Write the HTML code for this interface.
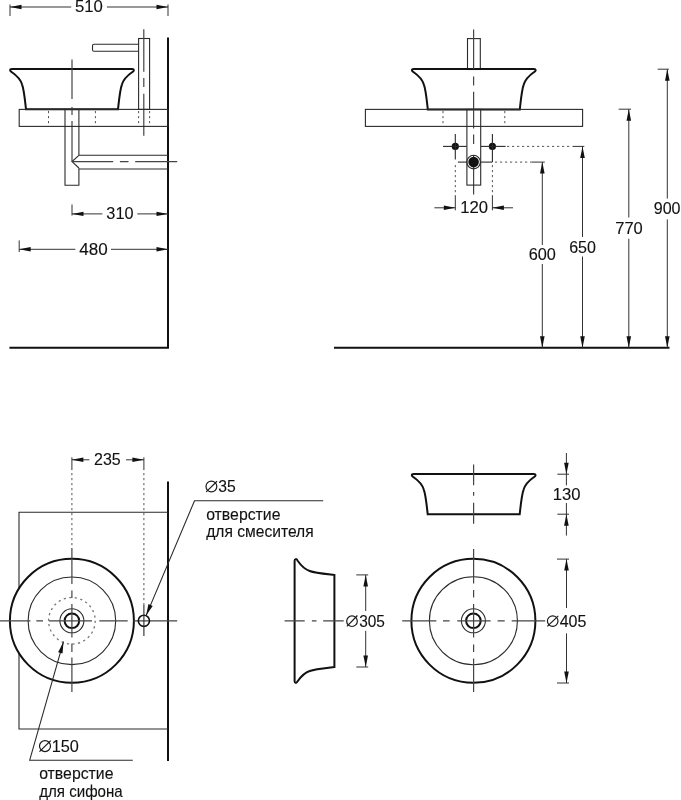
<!DOCTYPE html>
<html><head><meta charset="utf-8"><style>
html,body{margin:0;padding:0;background:#fff;width:681px;height:800px;overflow:hidden}
svg{display:block;will-change:transform}
.t{fill:none;stroke:#2a2a2a;stroke-width:1.1}
.d{fill:none;stroke:#333;stroke-width:1}
.k{fill:none;stroke:#111;stroke-width:2}
.kf{fill:#fff;stroke:#111;stroke-width:2}
.k2{fill:none;stroke:#111;stroke-width:1.6}
.w{fill:none;stroke:#111;stroke-width:2}
.f{fill:#111;stroke:none}
.ar{fill:#111;stroke:none}
.dt{fill:none;stroke:#555;stroke-width:1;stroke-dasharray:2.2 2.8}
.dc{fill:none;stroke:#777;stroke-width:1.3;stroke-dasharray:2.2 3.4}
.dm{fill:none;stroke:#1a1a1a;stroke-width:1.2}
.cl{fill:none;stroke:#444;stroke-width:1.2}
.c1{stroke-dasharray:41.6 6.8 8.8 6.8}
.c2{stroke-dasharray:39.6 8 8 6}
.c3{stroke-dasharray:41 6.7 8.6 6.7}
.c4{stroke-dasharray:8 6 22 6}
.c5{stroke-dasharray:12 4 4 4}
.c6{stroke-dasharray:12 4 4 4}
.c7{stroke-dasharray:18 4 6 4}
.c8{stroke-dasharray:12 4 4 4}
.tx{font-family:"Liberation Sans",sans-serif;fill:#111;stroke:#111;stroke-width:0.12}
</style></head><body>
<svg width="681" height="800" viewBox="0 0 681 800">
<line x1="10" y1="7" x2="71.2" y2="7" class="d"/>
<line x1="106.9" y1="7" x2="168" y2="7" class="d"/>
<line x1="10" y1="4.5" x2="10" y2="16" class="d"/>
<line x1="168" y1="4.5" x2="168" y2="16" class="d"/>
<polygon points="10.00,7.00 21.50,4.70 21.50,9.30" class="ar"/>
<polygon points="168.00,7.00 156.50,4.70 156.50,9.30" class="ar"/>
<text x="74.98" y="12.29" font-size="16.00" textLength="27.89" lengthAdjust="spacingAndGlyphs" class="tx">510</text>
<polyline points="168,37.5 168,347.8 9.4,347.8" class="w"/>
<path d="M138.6,44.3 L94,44.3 Q92.5,44.3 92.5,45.8 L92.5,49.8 Q92.5,51.3 94,51.3 L138.6,51.3" class="t"/>
<rect x="138.6" y="38.5" width="11.00" height="70.90" class="t"/>
<path d="M143.8,29.3V71.8 M143.8,78V86.9 M143.8,93.8V135.8" class="cl"/>
<path d="M26.00,109.20 L118.00,109.20 C119.30,97.50 120.00,89.35 122.00,84.27 C124.00,78.16 128.00,75.11 132.00,72.26 C134.60,70.83 134.40,69.00 132.00,69.00 L12.00,69.00 C9.60,69.00 9.40,70.83 12.00,72.26 C16.00,75.11 20.00,78.16 22.00,84.27 C24.00,89.35 24.70,97.50 26.00,109.20 Z" class="k"/>
<path d="M72,59.4V99 M72,107V115 M72,121V161.6" class="cl"/>
<rect x="19.2" y="109.4" width="148.80" height="17.00" class="t"/>
<line x1="48.5" y1="111" x2="48.5" y2="126" class="dt"/>
<line x1="95.4" y1="111" x2="95.4" y2="126" class="dt"/>
<line x1="138.6" y1="111" x2="138.6" y2="126" class="dt"/>
<line x1="149.6" y1="111" x2="149.6" y2="126" class="dt"/>
<polyline points="78.9,109.4 78.9,155.3" class="t"/>
<polyline points="78.9,168.3 78.9,185.3 65,185.3 65,109.4" class="t"/>
<line x1="78.9" y1="155.3" x2="168" y2="155.3" class="t"/>
<line x1="78.9" y1="169" x2="168" y2="169" class="t"/>
<polyline points="78.9,155.3 72,161.6 78.9,168" class="t"/>
<path d="M72,161.6H113.2 M119.9,161.6H128.5 M135.2,161.6H177.2" class="cl"/>
<line x1="72" y1="204.5" x2="72" y2="215.5" class="d"/>
<line x1="72" y1="213.9" x2="102.4" y2="213.9" class="d"/>
<line x1="137.3" y1="213.9" x2="168" y2="213.9" class="d"/>
<polygon points="72.00,213.90 83.50,211.70 83.50,216.10" class="ar"/>
<polygon points="168.00,213.90 156.50,211.70 156.50,216.10" class="ar"/>
<text x="106.37" y="218.53" font-size="16.00" textLength="27.11" lengthAdjust="spacingAndGlyphs" class="tx">310</text>
<line x1="19.2" y1="240.4" x2="19.2" y2="252" class="d"/>
<line x1="19.2" y1="249.3" x2="75.4" y2="249.3" class="d"/>
<line x1="111" y1="249.3" x2="168" y2="249.3" class="d"/>
<polygon points="19.20,249.30 30.70,247.00 30.70,251.60" class="ar"/>
<polygon points="168.00,249.30 156.50,247.00 156.50,251.60" class="ar"/>
<text x="79.35" y="255.03" font-size="16.00" textLength="28.42" lengthAdjust="spacingAndGlyphs" class="tx">480</text>
<rect x="467.5" y="38.6" width="12.80" height="30.90" class="t"/>
<path d="M427.80,109.40 L519.80,109.40 C521.10,97.64 521.80,89.46 523.80,84.34 C525.80,78.21 529.80,75.14 533.80,72.27 C536.40,70.84 536.20,69.00 533.80,69.00 L413.80,69.00 C411.40,69.00 411.20,70.84 413.80,72.27 C417.80,75.14 421.80,78.21 423.80,84.34 C425.80,89.46 426.50,97.64 427.80,109.40 Z" class="k"/>
<path d="M473.6,29.4V68.9 M473.6,76.4V85.5 M473.6,91.7V128.5 M473.6,134.5V144 M473.6,155V194.4" class="cl"/>
<rect x="365.4" y="109.4" width="217.20" height="17.00" class="t"/>
<line x1="443" y1="111" x2="443" y2="126" class="dt"/>
<line x1="504.8" y1="111" x2="504.8" y2="126" class="dt"/>
<rect x="466.9" y="109.4" width="13.80" height="75.70" class="t"/>
<circle cx="455.3" cy="146.4" r="3.6" class="f"/>
<circle cx="492.4" cy="146.4" r="3.6" class="f"/>
<line x1="443" y1="146.4" x2="466.7" y2="146.4" class="t"/>
<line x1="455.3" y1="134" x2="455.3" y2="159.6" class="t"/>
<line x1="481" y1="146.4" x2="505.6" y2="146.4" class="t"/>
<line x1="492.4" y1="134" x2="492.4" y2="162.1" class="t"/>
<line x1="457.9" y1="162.1" x2="466.7" y2="162.1" class="t"/>
<line x1="481" y1="162.1" x2="492.4" y2="162.1" class="t"/>
<circle cx="473.6" cy="162.1" r="6.8" class="t"/>
<circle cx="473.6" cy="162.1" r="5.3" class="f"/>
<line x1="507" y1="146.4" x2="572" y2="146.4" class="dt"/>
<line x1="495" y1="162.1" x2="531.8" y2="162.1" class="dt"/>
<line x1="455.3" y1="165" x2="455.3" y2="196" class="dt"/>
<line x1="492.4" y1="165" x2="492.4" y2="196" class="dt"/>
<line x1="455.3" y1="196" x2="455.3" y2="210.3" class="d"/>
<line x1="492.4" y1="196" x2="492.4" y2="210.3" class="d"/>
<line x1="434.4" y1="207.8" x2="455.3" y2="207.8" class="d"/>
<line x1="492.4" y1="207.8" x2="513" y2="207.8" class="d"/>
<polygon points="455.30,207.80 443.80,205.50 443.80,210.10" class="ar"/>
<polygon points="492.40,207.80 503.90,205.50 503.90,210.10" class="ar"/>
<text x="460.17" y="213.33" font-size="16.00" textLength="27.76" lengthAdjust="spacingAndGlyphs" class="tx">120</text>
<line x1="334" y1="347.8" x2="669.5" y2="347.8" class="w"/>
<line x1="531.8" y1="162.1" x2="544.8" y2="162.1" class="d"/>
<line x1="542.3" y1="162.1" x2="542.3" y2="245" class="d"/>
<line x1="542.3" y1="264" x2="542.3" y2="347.8" class="d"/>
<polygon points="542.30,162.10 540.00,173.60 544.60,173.60" class="ar"/>
<polygon points="542.30,347.80 540.00,336.30 544.60,336.30" class="ar"/>
<text x="528.74" y="260.20" font-size="16.00" textLength="27.20" lengthAdjust="spacingAndGlyphs" class="tx">600</text>
<line x1="572.5" y1="146.4" x2="584.3" y2="146.4" class="d"/>
<line x1="582.5" y1="146.4" x2="582.5" y2="237" class="d"/>
<line x1="582.5" y1="256.5" x2="582.5" y2="347.8" class="d"/>
<polygon points="582.50,146.40 580.20,157.90 584.80,157.90" class="ar"/>
<polygon points="582.50,347.80 580.20,336.30 584.80,336.30" class="ar"/>
<text x="569.16" y="252.57" font-size="16.00" textLength="26.76" lengthAdjust="spacingAndGlyphs" class="tx">650</text>
<line x1="618.7" y1="109.2" x2="631" y2="109.2" class="d"/>
<line x1="628.8" y1="109.2" x2="628.8" y2="217.5" class="d"/>
<line x1="628.8" y1="238.7" x2="628.8" y2="347.8" class="d"/>
<polygon points="628.80,109.20 626.50,120.70 631.10,120.70" class="ar"/>
<polygon points="628.80,347.80 626.50,336.30 631.10,336.30" class="ar"/>
<text x="615.28" y="233.91" font-size="16.00" textLength="27.53" lengthAdjust="spacingAndGlyphs" class="tx">770</text>
<line x1="657.7" y1="69.2" x2="668.9" y2="69.2" class="d"/>
<line x1="667.3" y1="69.2" x2="667.3" y2="198.6" class="d"/>
<line x1="667.3" y1="219.4" x2="667.3" y2="347.8" class="d"/>
<polygon points="667.30,69.20 665.00,80.70 669.60,80.70" class="ar"/>
<polygon points="667.30,347.80 665.00,336.30 669.60,336.30" class="ar"/>
<text x="653.73" y="214.22" font-size="16.00" textLength="26.79" lengthAdjust="spacingAndGlyphs" class="tx">900</text>
<line x1="71.9" y1="457.3" x2="71.9" y2="470.1" class="d"/>
<line x1="143.9" y1="457.3" x2="143.9" y2="470.1" class="d"/>
<line x1="71.9" y1="459.8" x2="89.4" y2="459.8" class="d"/>
<line x1="126" y1="459.8" x2="143.9" y2="459.8" class="d"/>
<polygon points="71.90,459.80 83.40,457.50 83.40,462.10" class="ar"/>
<polygon points="143.90,459.80 132.40,457.50 132.40,462.10" class="ar"/>
<text x="94.08" y="465.25" font-size="16.00" textLength="26.69" lengthAdjust="spacingAndGlyphs" class="tx">235</text>
<line x1="71.9" y1="473" x2="71.9" y2="547" class="dt"/>
<line x1="143.9" y1="473" x2="143.9" y2="605" class="dt"/>
<line x1="168" y1="481.5" x2="168" y2="761" class="w"/>
<polyline points="168,512.2 19,512.2 19,729 168,729" class="t"/>
<circle cx="71.9" cy="620.8" r="62" class="kf"/>
<circle cx="71.9" cy="620.8" r="43.8" class="t"/>
<circle cx="71.9" cy="620.8" r="23.3" class="dc"/>
<circle cx="71.9" cy="620.8" r="12" class="t"/>
<circle cx="71.9" cy="620.8" r="7.3" class="k"/>
<path d="M0,620.9H30.4 M36.3,620.9H43 M48.9,620.9H92 M99.3,620.9H127.7 M133.6,620.9H177.2" class="cl"/>
<path d="M71.9,548V584 M71.9,590.5V598 M71.9,604V637.5 M71.9,643.5V652 M71.9,657.5V692" class="cl"/>
<circle cx="143.9" cy="620.8" r="5.6" class="k2"/>
<line x1="143.9" y1="605" x2="143.9" y2="636" class="t"/>
<polyline points="146.1,615.6 194.5,500.8 323.2,500.8" class="t"/>
<polygon points="146.10,615.60 148.45,604.11 152.69,605.90" class="ar"/>
<circle cx="211.4" cy="486.5" r="5.4" class="dm"/>
<line x1="206.2" y1="491.9" x2="217" y2="481.2" class="dm"/>
<text x="218.32" y="492.43" font-size="16.00" textLength="17.46" lengthAdjust="spacingAndGlyphs" class="tx">35</text>
<text x="206.16" y="520.00" font-size="16.40" textLength="74.34" lengthAdjust="spacingAndGlyphs" class="tx">отверстие</text>
<text x="206.17" y="537.40" font-size="16.40" textLength="107.47" lengthAdjust="spacingAndGlyphs" class="tx">для смесителя</text>
<polyline points="63.5,641.7 29.7,760.2 132.8,760.2" class="t"/>
<polygon points="63.50,641.70 62.56,653.39 58.13,652.13" class="ar"/>
<circle cx="45" cy="746.1" r="5.5" class="dm"/>
<line x1="39.5" y1="751.6" x2="50.7" y2="740.6" class="dm"/>
<text x="51.74" y="751.59" font-size="16.00" textLength="27.19" lengthAdjust="spacingAndGlyphs" class="tx">150</text>
<text x="39.18" y="779.30" font-size="16.40" textLength="74.31" lengthAdjust="spacingAndGlyphs" class="tx">отверстие</text>
<text x="39.25" y="796.70" font-size="16.40" textLength="83.48" lengthAdjust="spacingAndGlyphs" class="tx">для сифона</text>
<path d="M334.40,575.00 L334.40,667.00 C322.81,668.30 314.75,669.00 309.71,671.00 C303.67,673.00 300.65,677.00 297.82,681.00 C296.41,683.60 294.60,683.40 294.60,681.00 L294.60,561.00 C294.60,558.60 296.41,558.40 297.82,561.00 C300.65,565.00 303.67,569.00 309.71,571.00 C314.75,573.00 322.81,573.70 334.40,575.00 Z" class="k"/>
<path d="M284.6,620.8H304.7 M311.9,620.8H316.5 M323.2,620.8H343.7" class="cl"/>
<line x1="356.3" y1="574.9" x2="368.2" y2="574.9" class="d"/>
<line x1="356.3" y1="667" x2="368.2" y2="667" class="d"/>
<line x1="365.7" y1="574.9" x2="365.7" y2="611" class="d"/>
<line x1="365.7" y1="630.8" x2="365.7" y2="667" class="d"/>
<polygon points="365.70,574.90 363.40,586.40 368.00,586.40" class="ar"/>
<polygon points="365.70,667.00 363.40,655.50 368.00,655.50" class="ar"/>
<circle cx="352" cy="621.2" r="5.3" class="dm"/>
<line x1="346.9" y1="626.4" x2="357.4" y2="615.5" class="dm"/>
<text x="359.17" y="627.00" font-size="16.00" textLength="25.75" lengthAdjust="spacingAndGlyphs" class="tx">305</text>
<path d="M427.70,514.20 L519.70,514.20 C521.00,502.50 521.70,494.35 523.70,489.27 C525.70,483.16 529.70,480.11 533.70,477.26 C536.30,475.83 536.10,474.00 533.70,474.00 L413.70,474.00 C411.30,474.00 411.10,475.83 413.70,477.26 C417.70,480.11 421.70,483.16 423.70,489.27 C425.70,494.35 426.40,502.50 427.70,514.20 Z" class="k"/>
<path d="M473.6,464.4V485.3 M473.6,491.9V495.8 M473.6,502.8V523.8" class="cl"/>
<line x1="557.3" y1="474.2" x2="569" y2="474.2" class="d"/>
<line x1="557.3" y1="514.2" x2="569" y2="514.2" class="d"/>
<line x1="566.4" y1="453" x2="566.4" y2="485.4" class="d"/>
<line x1="566.4" y1="503" x2="566.4" y2="535.6" class="d"/>
<polygon points="566.40,474.20 564.10,462.70 568.70,462.70" class="ar"/>
<polygon points="566.40,514.20 564.10,525.70 568.70,525.70" class="ar"/>
<text x="552.74" y="499.59" font-size="16.00" textLength="27.75" lengthAdjust="spacingAndGlyphs" class="tx">130</text>
<circle cx="473.4" cy="620.8" r="62" class="k"/>
<circle cx="473.4" cy="620.8" r="44" class="t"/>
<circle cx="473.4" cy="620.8" r="12" class="t"/>
<circle cx="473.4" cy="620.8" r="7.3" class="k"/>
<path d="M402.2,620.8H436.3 M443,620.8H449.6 M457.3,620.8H490.6 M497.6,620.8H504.7 M511.7,620.8H545.2" class="cl"/>
<path d="M473.6,549V583.5 M473.6,590V597.5 M473.6,604V637.5 M473.6,644.5V652 M473.6,658.5V692" class="cl"/>
<line x1="557" y1="559.1" x2="569" y2="559.1" class="d"/>
<line x1="557" y1="683" x2="569" y2="683" class="d"/>
<line x1="566.5" y1="559.1" x2="566.5" y2="608" class="d"/>
<line x1="566.5" y1="633.4" x2="566.5" y2="683" class="d"/>
<polygon points="566.50,559.10 564.20,570.60 568.80,570.60" class="ar"/>
<polygon points="566.50,683.00 564.20,671.50 568.80,671.50" class="ar"/>
<circle cx="552.7" cy="621.1" r="5.3" class="dm"/>
<line x1="547.3" y1="626.4" x2="558.3" y2="615.9" class="dm"/>
<text x="559.63" y="626.88" font-size="16.00" textLength="26.71" lengthAdjust="spacingAndGlyphs" class="tx">405</text>
</svg>
</body></html>
